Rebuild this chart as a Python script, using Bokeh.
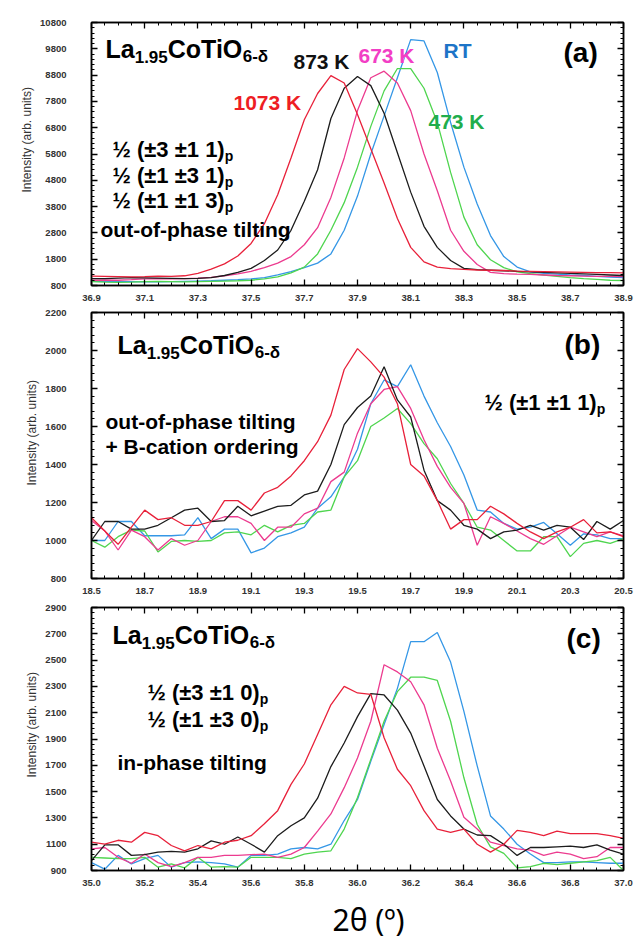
import numpy as np
from bokeh.plotting import figure
from bokeh.models import (LinearAxis, FixedTicker, NumeralTickFormatter, Label, Title,
                          Range1d, CustomJSTickFormatter)
from bokeh.layouts import column
from bokeh.embed import file_html
from bokeh.resources import INLINE

# ---------------- data ----------------
series_names = ["RT", "473 K", "673 K", "873 K", "1073 K"]

# panel (a): 2theta 36.90 .. 38.90, step 0.05
x_a = np.round(np.arange(36.90, 38.9001, 0.05), 2)
a_red = [1160, 1150, 1140, 1130, 1140, 1160, 1150, 1170, 1260, 1420, 1620, 1920, 2400, 3150, 4250,
         5650, 7100, 8100, 8780, 8500, 7300, 6000, 4700, 3350, 2250, 1700, 1500, 1440, 1410, 1390,
         1380, 1370, 1350, 1340, 1330, 1320, 1310, 1300, 1290, 1290, 1280]
a_black = [1060, 1060, 1080, 1100, 1090, 1080, 1070, 1060, 1070, 1100, 1180, 1300, 1450, 1750, 2150,
           2900, 4000, 5200, 7150, 8300, 8750, 8400, 7350, 5850, 4350, 3050, 2250, 1750, 1450, 1400,
           1380, 1360, 1340, 1320, 1300, 1280, 1260, 1240, 1220, 1200, 1180]
a_mag = [1000, 1010, 1000, 1020, 1050, 1060, 1050, 1060, 1080, 1110, 1170, 1240, 1340, 1480, 1650,
         1900, 2350, 3000, 4150, 5650, 7450, 8700, 8950, 8500, 7450, 5800, 4400, 2900, 2100, 1600,
         1300, 1250, 1230, 1220, 1200, 1180, 1170, 1160, 1150, 1150, 1140]
a_green = [950, 930, 920, 930, 950, 960, 950, 940, 950, 960, 970, 980, 1000, 1050, 1130,
           1280, 1500, 2000, 2900, 3950, 5300, 6850, 8200, 9050, 9050, 8300, 7000, 5100, 3400, 2350,
           1780, 1480, 1320, 1250, 1200, 1150, 1100, 1060, 1030, 1000, 990]
a_blue = [960, 960, 950, 950, 940, 940, 950, 960, 970, 980, 1000, 1020, 1050, 1100, 1200,
          1330, 1480, 1650, 2000, 2900, 4200, 5800, 7250, 8700, 10150, 10100, 8900, 7000, 5300, 3900,
          2700, 1900, 1500, 1320, 1260, 1230, 1200, 1180, 1150, 1120, 1100]

# panel (b): 2theta 18.50 .. 20.50, step 0.05
x_b = np.round(np.arange(18.50, 20.5001, 0.05), 2)
b_red = [1120, 1050, 980, 1070, 1160, 1110, 1120, 1080, 1080, 1100, 1210, 1210, 1160, 1250, 1280,
         1340, 1420, 1520, 1660, 1900, 2010, 1940, 1860, 1720, 1400, 1340, 1210, 1060, 1110, 1110,
         1180, 1140, 1090, 1045, 1010, 1045, 1070, 1110, 1040, 1045, 1020]
b_black = [1000, 1100, 1100, 1060, 1060, 1080, 1120, 1160, 1170, 1100, 1105, 1180, 1130, 1155, 1180,
           1185, 1240, 1260, 1400, 1610, 1700, 1760, 1915, 1740, 1650, 1370, 1210, 1160, 1080, 1060,
           1010, 1045, 1055, 1080, 1055, 1080, 1070, 1005, 1100, 1060, 1105]
b_mag = [1105, 1050, 950, 1055, 1020, 950, 1010, 975, 1000, 1100, 1125, 1125, 1090, 1000, 1070,
         1070, 1140, 1170, 1310, 1360, 1565, 1720, 1795, 1810, 1695, 1530, 1390, 1280, 1195, 975,
         1125, 1090, 1050, 1010, 980, 1025, 1070, 1045, 1020, 1045, 1025]
b_green = [1000, 965, 1020, 1055, 1050, 940, 995, 1000, 995, 1000, 1040, 1045, 1030, 1080, 1045,
           1080, 1090, 1150, 1160, 1335, 1420, 1600, 1645, 1695, 1615, 1510, 1430, 1300, 1195, 1070,
           1055, 1000, 945, 945, 1020, 1020, 915, 985, 1000, 985, 1010]
b_blue = [1000, 1000, 1100, 1100, 1025, 1025, 1025, 1030, 1120, 1010, 1060, 1060, 935, 960, 1020,
          1040, 1070, 1170, 1230, 1335, 1480, 1720, 1845, 1810, 1925, 1760, 1620, 1495, 1345, 1160,
          1150, 1090, 1060, 1070, 1095, 1035, 975, 1035, 1030, 1010, 1010]

# panel (c): 2theta 35.00 .. 37.00, step 0.05
x_c = np.round(np.arange(35.00, 37.0001, 0.05), 2)
c_red = [1115, 1100, 1130, 1115, 1190, 1165, 1090, 1050, 1090, 1065, 1115, 1130, 1165, 1255, 1355,
         1555, 1710, 1935, 2160, 2300, 2250, 2240, 1910, 1670, 1545, 1355, 1215, 1190, 1215, 1100,
         1040, 1100, 1205, 1190, 1165, 1200, 1180, 1180, 1180, 1165, 1145]
c_black = [975, 1095, 1095, 1015, 1020, 1040, 1045, 1040, 1065, 1125, 1100, 1155, 1100, 1040, 1165,
           1240, 1300, 1450, 1690, 1870, 2070, 2245, 2235, 2120, 1945, 1695, 1440, 1315, 1215, 1170,
           1165, 1100, 1015, 1075, 1075, 1080, 1085, 1075, 1095, 1055, 1025]
c_mag = [1065, 1075, 1000, 955, 1025, 960, 930, 960, 1000, 1000, 1015, 1015, 1020, 1025, 1000,
         1025, 1075, 1200, 1330, 1530, 1755, 2035, 2465, 2410, 2335, 2160, 1830, 1580, 1305, 1215,
         1115, 1090, 1065, 1055, 1015, 1040, 1025, 990, 1005, 1075, 1075]
c_green = [1000, 995, 990, 990, 1000, 925, 950, 920, 1000, 925, 930, 925, 1000, 1000, 1000,
           990, 1025, 1040, 1050, 1215, 1455, 1745, 2035, 2260, 2370, 2370, 2345, 2035, 1605, 1250,
           1080, 1030, 920, 930, 955, 945, 955, 965, 975, 1000, 900]
c_blue = [960, 910, 1015, 950, 990, 1015, 925, 960, 965, 960, 950, 925, 1015, 1015, 1025,
          1065, 1075, 1065, 1100, 1280, 1440, 1730, 2010, 2285, 2640, 2640, 2710, 2485, 2110, 1695,
          1315, 1215, 1100, 1025, 960, 960, 965, 965, 960, 955, 955]

# tick labels
xticks_a = [36.9, 37.1, 37.3, 37.5, 37.7, 37.9, 38.1, 38.3, 38.5, 38.7, 38.9]
xticks_b = [18.5, 18.7, 18.9, 19.1, 19.3, 19.5, 19.7, 19.9, 20.1, 20.3, 20.5]
xticks_c = [35.0, 35.2, 35.4, 35.6, 35.8, 36.0, 36.2, 36.4, 36.6, 36.8, 37.0]
yticks_a = [800, 1800, 2800, 3800, 4800, 5800, 6800, 7800, 8800, 9800, 10800]
yticks_b = [800, 1000, 1200, 1400, 1600, 1800, 2000, 2200]
yticks_c = [900, 1100, 1300, 1500, 1700, 1900, 2100, 2300, 2500, 2700, 2900]

# ---------------- style ----------------
FONT = "Liberation Sans"
LINE_COLORS = {"RT": "#3597e6", "473 K": "#4fd54f", "673 K": "#ec3b8f",
               "873 K": "#1c1c1c", "1073 K": "#e8213a"}
LABEL_COLORS = {"RT": "#1d74c7", "473 K": "#21ad4c", "673 K": "#f23ec5",
                "873 K": "#111111", "1073 K": "#ee1d24"}

W = {'L': .611, 'a': .556, 'C': .722, 'o': .611, 'T': .611, 'i': .278, 'O': .778,
     '1': .556, '.': .278, '9': .556, '5': .556, '6': .556, '-': .333, 'δ': .611,
     '½': .834, ' ': .278, '(': .333, ')': .333, '±': .549, '3': .556, '0': .556, 'p': .611}


def tw(s, size):
    return sum(W.get(ch, 0.6) for ch in s) * size


def rich(p, x, y, parts, color="black"):
    # y = baseline (screen px above the frame bottom); drawn with middle anchoring
    cx = x
    for text, size, dy in parts:
        p.add_layout(Label(x=cx, y=y - dy + 0.35 * size, x_units="screen", y_units="screen",
                           text=text, text_font=FONT, text_font_size=f"{size}px",
                           text_font_style="bold", text_color=color,
                           text_baseline="middle", text_align="left"))
        cx += tw(text, size)


def txt(p, x, y, text, size=21, color="black"):
    rich(p, x, y, [(text, size, 0)], color)


def formula(p, x, y):
    rich(p, x, y, [("La", 25, 0), ("1.95", 17, 5), ("CoTiO", 25, 0), ("6-δ", 17, 5)])


def hkl(p, x, y, text):
    rich(p, x, y, [(text, 22, 0), ("p", 14, 3)])


def style_axis(ax, ticks, minor, fmt, show_labels, standoff):
    ax.ticker = FixedTicker(ticks=ticks, minor_ticks=minor)
    ax.major_tick_in = 6
    ax.major_tick_out = 0
    ax.minor_tick_in = 3
    ax.minor_tick_out = 0
    ax.major_tick_line_color = "black"
    ax.minor_tick_line_color = "black"
    ax.major_tick_line_width = 1.3
    ax.minor_tick_line_width = 1
    ax.axis_line_color = "black"
    ax.axis_line_width = 1.5
    if show_labels:
        ax.formatter = NumeralTickFormatter(format=fmt)
        ax.major_label_text_font = FONT
        ax.major_label_text_font_style = "bold"
        ax.major_label_text_font_size = "9.5px"
        ax.major_label_text_color = "#333333"
        ax.major_label_standoff = standoff
    else:
        ax.formatter = CustomJSTickFormatter(code="return ''")
        ax.major_label_standoff = 0


def panel(xs, ys_by_name, xticks, yticks, yminor_step, height, top, bottom, right):
    p = figure(width=635, height=height, x_range=Range1d(xticks[0], xticks[-1]),
               y_range=Range1d(yticks[0], yticks[-1]), output_backend="svg",
               toolbar_location=None, min_border_left=91, min_border_right=right,
               min_border_top=top, min_border_bottom=bottom)
    p.xgrid.visible = False
    p.ygrid.visible = False
    p.outline_line_color = "black"
    p.outline_line_width = 1.5
    p.outline_line_alpha = 1
    p.background_fill_color = "white"
    p.border_fill_color = "white"

    xminor = list(np.round(np.arange(xticks[0], xticks[-1] + 1e-6, 0.05), 2))
    yminor = list(np.arange(yticks[0], yticks[-1] + 1, yminor_step))

    style_axis(p.xaxis[0], xticks, xminor, "0.0", True, 9)
    style_axis(p.yaxis[0], yticks, yminor, "0", True, 25)
    top_ax = LinearAxis()
    style_axis(top_ax, xticks, xminor, "0.0", False, 0)
    p.add_layout(top_ax, "above")
    right_ax = LinearAxis()
    style_axis(right_ax, yticks, yminor, "0", False, 0)
    p.add_layout(right_ax, "right")

    for name in ["RT", "473 K", "673 K", "873 K", "1073 K"]:
        p.line(xs, ys_by_name[name], line_color=LINE_COLORS[name], line_width=1.3)

    p.add_layout(Title(text="Intensity (arb. units)", align="left", offset=93,
                       text_font=FONT, text_font_size="12px", text_font_style="normal",
                       text_color="#333333", standoff=8), "left")
    return p


# ---------------- panel (a) ----------------
pa = panel(x_a, dict(zip(series_names, [a_blue, a_green, a_mag, a_black, a_red])),
           xticks_a, yticks_a, 200, 307, 22, 22, 12)
formula(pa, 14, 228)
txt(pa, 142, 176, "1073 K", 21, LABEL_COLORS["1073 K"])
txt(pa, 202, 217, "873 K", 21, LABEL_COLORS["873 K"])
txt(pa, 267, 223, "673 K", 21, LABEL_COLORS["673 K"])
txt(pa, 352, 228, "RT", 21, LABEL_COLORS["RT"])
txt(pa, 337, 157, "473 K", 21, LABEL_COLORS["473 K"])
txt(pa, 472, 223, "(a)", 28)
hkl(pa, 21, 128, "½ (±3 ±1 1)")
hkl(pa, 21, 102, "½ (±1 ±3 1)")
hkl(pa, 21, 77, "½ (±1 ±1 3)")
txt(pa, 9, 49, "out-of-phase tilting", 21)

# ---------------- panel (b) ----------------
pb = panel(x_b, dict(zip(series_names, [b_blue, b_green, b_mag, b_black, b_red])),
           xticks_b, yticks_b, 40, 293, 5, 22, 8)
formula(pb, 26, 225)
txt(pb, 14, 150, "out-of-phase tilting", 21)
txt(pb, 14, 125, "+ B-cation ordering", 21)
txt(pb, 473, 224, "(b)", 28)
hkl(pb, 393, 168, "½ (±1 ±1 1)")

# ---------------- panel (c) ----------------
pc = panel(x_c, dict(zip(series_names, [c_blue, c_green, c_mag, c_black, c_red])),
           xticks_c, yticks_c, 40, 290, 7, 20, 8)
formula(pc, 21, 227)
hkl(pc, 56, 170, "½ (±3 ±1 0)")
hkl(pc, 56, 143, "½ (±1 ±3 0)")
txt(pc, 26, 101, "in-phase tilting", 21)
txt(pc, 475, 222, "(c)", 28)

# ---------------- shared x-axis title strip ----------------
pd = figure(width=635, height=50, x_range=(0, 1), y_range=(0, 1), output_backend="svg",
            toolbar_location=None, x_axis_location=None, y_axis_location=None,
            min_border_left=0, min_border_right=0, min_border_top=0, min_border_bottom=0)
pd.xgrid.visible = False
pd.ygrid.visible = False
pd.outline_line_color = None
pd.background_fill_color = "white"
pd.border_fill_color = "white"
pd.add_layout(Label(x=241, y=21, x_units="screen", y_units="screen", text="2θ (º)",
                    text_font="Noto Sans", text_font_size="30px", text_font_style="normal",
                    text_color="black", text_baseline="middle", text_align="left"))

layout = column(pa, pb, pc, pd, spacing=0)
open("out.html", "w").write(file_html(layout, INLINE))
